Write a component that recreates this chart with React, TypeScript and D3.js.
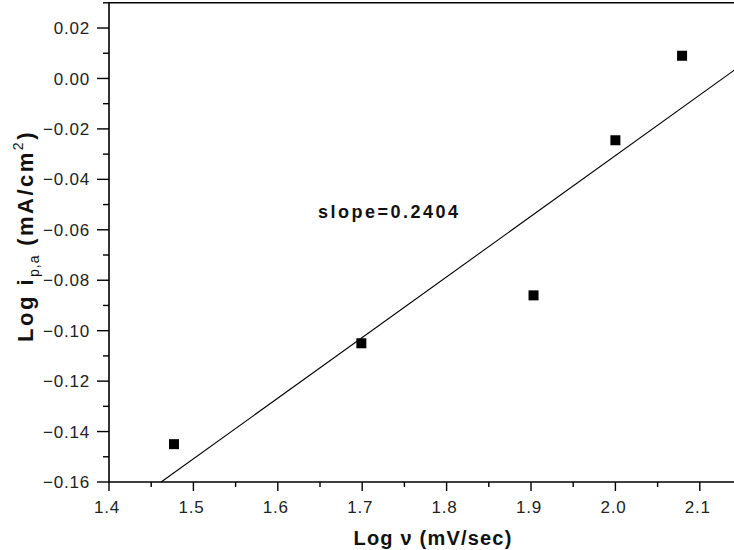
import React, { useRef, useEffect } from "react";
import * as d3 from "d3";

// measured points
const logScanRate = [1.477, 1.699, 1.903, 2.0, 2.079];
const logPeakCurrent = [-0.145, -0.105, -0.086, -0.0245, 0.009];

// linear fit
const fitSlope = 0.2404;
const fitIntercept = -0.5114;
const fitXEnd = 2.15;

const xTicks = [1.4, 1.5, 1.6, 1.7, 1.8, 1.9, 2.0, 2.1];
const yTicks = [-0.16, -0.14, -0.12, -0.1, -0.08, -0.06, -0.04, -0.02, 0.0, 0.02];

export default function App() {
  const svgRef = useRef<SVGSVGElement>(null);

  useEffect(() => {
    const svg = d3.select(svgRef.current);
    svg.selectAll("*").remove();

    const left = 109,
      top = 2.8,
      bottom = 482;

    const x = d3.scaleLinear().domain([1.4, 2.15]).range([left, left + 0.75 * 844]);
    const y = d3.scaleLinear().domain([-0.16, 0.03]).range([bottom, top]);

    const font = "Arial, 'Liberation Sans', sans-serif";

    // frame: left, bottom, top
    svg
      .append("line")
      .attr("x1", left)
      .attr("x2", left)
      .attr("y1", top)
      .attr("y2", bottom)
      .attr("stroke", "#000")
      .attr("stroke-width", 1.6);
    svg
      .append("line")
      .attr("x1", left)
      .attr("x2", x(2.15))
      .attr("y1", bottom)
      .attr("y2", bottom)
      .attr("stroke", "#000")
      .attr("stroke-width", 1.6);
    svg
      .append("line")
      .attr("x1", left)
      .attr("x2", x(2.15))
      .attr("y1", top)
      .attr("y2", top)
      .attr("stroke", "#000")
      .attr("stroke-width", 1.6);

    // y ticks
    const yAxis = svg.append("g");
    yTicks.forEach((t) => {
      yAxis
        .append("line")
        .attr("x1", left - 12)
        .attr("x2", left)
        .attr("y1", y(t))
        .attr("y2", y(t))
        .attr("stroke", "#000")
        .attr("stroke-width", 1.4);
      yAxis
        .append("text")
        .attr("x", left - 19)
        .attr("y", y(t))
        .attr("dy", "0.36em")
        .attr("text-anchor", "end")
        .attr("font-family", font)
        .attr("font-size", 17)
        .attr("letter-spacing", 0.8)
        .attr("fill", "#222")
        .text(d3.format(".2f")(t));
    });
    yTicks.forEach((t) => {
      const m = t + 0.01;
      if (m > 0.03) return;
      yAxis
        .append("line")
        .attr("x1", left - 6)
        .attr("x2", left)
        .attr("y1", y(m))
        .attr("y2", y(m))
        .attr("stroke", "#000")
        .attr("stroke-width", 1.4);
    });

    // x ticks
    const xAxis = svg.append("g");
    xTicks.forEach((t) => {
      xAxis
        .append("line")
        .attr("x1", x(t))
        .attr("x2", x(t))
        .attr("y1", bottom)
        .attr("y2", bottom + 9)
        .attr("stroke", "#000")
        .attr("stroke-width", 1.4);
      xAxis
        .append("line")
        .attr("x1", x(t + 0.05))
        .attr("x2", x(t + 0.05))
        .attr("y1", bottom)
        .attr("y2", bottom + 5)
        .attr("stroke", "#000")
        .attr("stroke-width", 1.4);
      xAxis
        .append("text")
        .attr("x", x(t) - 2)
        .attr("y", 513)
        .attr("text-anchor", "middle")
        .attr("font-family", font)
        .attr("font-size", 17)
        .attr("letter-spacing", 0.8)
        .attr("fill", "#222")
        .text(d3.format(".1f")(t));
    });

    // fit line
    const yMin = y.domain()[0];
    const fitXStart = (yMin - fitIntercept) / fitSlope;
    const fitPts: [number, number][] = [fitXStart, fitXEnd].map((v) => [v, fitIntercept + fitSlope * v]);
    svg
      .append("path")
      .attr(
        "d",
        d3
          .line<[number, number]>()
          .x((d) => x(d[0]))
          .y((d) => y(d[1]))(fitPts)
      )
      .attr("fill", "none")
      .attr("stroke", "#000")
      .attr("stroke-width", 1.1);

    // points
    svg
      .selectAll(".pt")
      .data(logScanRate)
      .enter()
      .append("rect")
      .attr("class", "pt")
      .attr("x", (d) => x(d) - 5)
      .attr("y", (d, i) => y(logPeakCurrent[i]) - 5)
      .attr("width", 10)
      .attr("height", 10)
      .attr("fill", "#000");

    // slope label
    svg
      .append("text")
      .attr("x", 318)
      .attr("y", 218)
      .attr("font-family", font)
      .attr("font-size", 18)
      .attr("font-weight", "bold")
      .attr("letter-spacing", 2.5)
      .attr("fill", "#111")
      .text("slope=0.2404");

    // axis titles
    svg
      .append("text")
      .attr("x", 433)
      .attr("y", 545)
      .attr("text-anchor", "middle")
      .attr("font-family", font)
      .attr("font-size", 20)
      .attr("font-weight", "bold")
      .attr("letter-spacing", 1.2)
      .attr("fill", "#111")
      .text("Log \u03bd (mV/sec)");

    const yt = svg
      .append("text")
      .attr("transform", "translate(33, 236) rotate(-90)")
      .attr("text-anchor", "middle")
      .attr("font-family", font)
      .attr("font-size", 22)
      .attr("font-weight", "bold")
      .attr("letter-spacing", 2.5)
      .attr("fill", "#111");
    yt.append("tspan").text("Log i");
    yt.append("tspan")
      .attr("font-size", 14)
      .attr("font-weight", "normal")
      .attr("letter-spacing", 1)
      .attr("dy", 6)
      .text("p,a");
    yt.append("tspan").attr("dy", -6).text(" (mA/cm");
    yt.append("tspan").attr("font-size", 14).attr("font-weight", "normal").attr("dy", -10).text("2");
    yt.append("tspan").attr("dy", 10).text(")");
  }, []);

  return (
    <svg
      ref={svgRef}
      width={734}
      height={550}
      style={{ position: "absolute", left: 0, top: 0, background: "#fff", overflow: "hidden" }}
    ></svg>
  );
}
